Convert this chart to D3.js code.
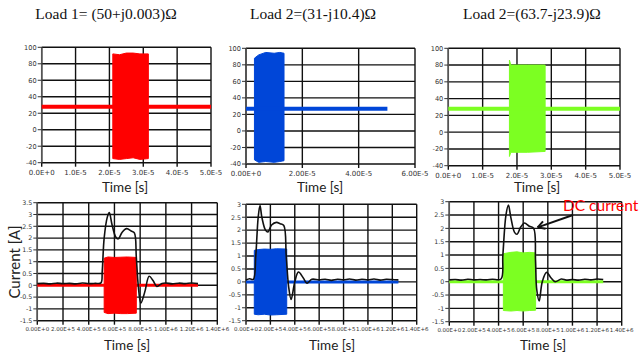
<!DOCTYPE html>
<html>
<head>
<meta charset="utf-8">
<script src="https://cdn.jsdelivr.net/npm/d3@7"></script>
<style>
  body { margin: 0; background: #fff; }
  svg { display: block; }
  .tick-y, .tick-x { font-family: "DejaVu Sans", sans-serif; fill: #333; }
  .axis-title { font-family: Lato, "Open Sans", sans-serif; fill: #222; }
  .load-title { font-family: "Liberation Serif", "DejaVu Serif", serif; fill: #111; }
</style>
</head>
<body>
<div class="container"></div>
<script>
// ---- titles ----
const loadTitles = ['Load 1= (50+j0.003)\u03a9', 'Load 2=(31-j10.4)\u03a9', 'Load 2=(63.7-j23.9)\u03a9'];

// ---- top row: voltage vs time ----
const topYTicks = [-40, -20, 0, 20, 40, 60, 80, 100];
const topXTicksA = [0, 1e-5, 2e-5, 3e-5, 4e-5, 5e-5];
const topXLabelsA = ['0.0E+0', '1.0E-5', '2.0E-5', '3.0E-5', '4.0E-5', '5.0E-5'];
const topXTicksB = [0, 2e-5, 4e-5, 6e-5];
const topXLabelsB = ['0.00E+0', '2.00E-5', '4.00E-5', '6.00E-5'];

// flat level [t, v]
const load1Level = [[0, 28], [5e-5, 28]];
const load2Level = [[0, 27], [5.02e-5, 27]];
const load3Level = [[0, 28], [5e-5, 28]];
// burst envelope [t, low, high]
const load1Burst = [[2.1e-5, -35, 92], [2.3e-5, -36, 91], [2.5e-5, -35, 93], [2.7e-5, -34, 93], [2.9e-5, -36, 92], [3.15e-5, -35, 92]];
const load2Burst = [[0.3e-5, -35, 88], [0.45e-5, -38, 92], [0.7e-5, -37, 95], [1.0e-5, -38, 94], [1.2e-5, -37, 95], [1.35e-5, -36, 94]];
const load3Burst = [[1.78e-5, -29, 86], [1.82e-5, -24, 80], [2.3e-5, -24, 80], [2.82e-5, -23, 80]];

// ---- bottom row: current vs time ----
const botXTicks = [0, 2e5, 4e5, 6e5, 8e5, 1e6, 1.2e6, 1.4e6];
const botXLabels = ['0.00E+0', '2.00E+5', '4.00E+5', '6.00E+5', '8.00E+5', '1.00E+6', '1.20E+6', '1.40E+6'];
const botYTicksA = [-1.5, -1, -0.5, 0, 0.5, 1, 1.5, 2, 2.5, 3, 3.5];
const botYTicksB = [-1.5, -1, -0.5, 0, 0.5, 1, 1.5, 2, 2.5, 3];

const dc1 = [[0, 0.07], [0.5e5, 0.08], [1e5, 0.06], [1.5e5, 0.09], [2e5, 0.07], [2.5e5, 0.08], [3e5, 0.06], [3.5e5, 0.1],
  [4e5, 0.07], [4.5e5, 0.08], [4.95e5, 0.1], [5.05e5, 0.6], [5.2e5, 2.0], [5.45e5, 2.9], [5.6e5, 3.08], [5.8e5, 2.6],
  [6.1e5, 2.05], [6.3e5, 1.97], [6.6e5, 2.25], [6.95e5, 2.4], [7.3e5, 2.3], [7.55e5, 2.22], [7.7e5, 1.2], [7.85e5, 0],
  [8.05e5, -0.75], [8.35e5, -0.3], [8.7e5, 0.38], [9.0e5, 0.2], [9.3e5, -0.05], [9.7e5, 0.08], [1.0e6, 0.1],
  [1.05e6, 0.06], [1.1e6, 0.09], [1.15e6, 0.07], [1.2e6, 0.1], [1.25e6, 0.07]];
const dc2 = [[0, 0.07], [0.3e5, 0.12], [0.6e5, 0.1], [0.8e5, 1.0], [1.0e5, 2.5], [1.15e5, 2.95], [1.3e5, 2.5], [1.6e5, 2.0],
  [1.8e5, 1.93], [2.1e5, 2.2], [2.5e5, 2.3], [2.8e5, 2.25], [3.1e5, 2.18], [3.3e5, 1.0], [3.5e5, -0.2], [3.7e5, -0.68],
  [4.0e5, 0.0], [4.3e5, 0.38], [4.7e5, 0.15], [5.0e5, -0.05], [5.4e5, 0.1], [6e5, 0.08], [6.5e5, 0.1], [7e5, 0.06],
  [7.5e5, 0.1], [8e5, 0.08], [8.5e5, 0.11], [9e5, 0.07], [9.5e5, 0.1], [1.0e6, 0.08], [1.05e6, 0.11], [1.1e6, 0.07],
  [1.15e6, 0.1], [1.2e6, 0.09], [1.25e6, 0.08]];
const dc3 = [[0, 0.07], [0.5e5, 0.08], [1e5, 0.06], [1.5e5, 0.09], [2e5, 0.07], [2.5e5, 0.08], [3e5, 0.07], [3.5e5, 0.09],
  [4.2e5, 0.1], [4.35e5, 1.0], [4.6e5, 2.5], [4.8e5, 2.87], [5.0e5, 2.4], [5.3e5, 1.85], [5.5e5, 1.78], [5.8e5, 2.05],
  [6.1e5, 2.2], [6.5e5, 2.08], [6.85e5, 2.0], [7.0e5, 0.8], [7.1e5, -0.3], [7.3e5, -0.72], [7.55e5, 0.0], [7.9e5, 0.35],
  [8.25e5, 0.15], [8.6e5, 0.0], [9.1e5, 0.1], [9.5e5, 0.06], [1.0e6, 0.08], [1.05e6, 0.06], [1.1e6, 0.09], [1.15e6, 0.07],
  [1.2e6, 0.1], [1.25e6, 0.08]];

const rfLevel = [[0, 0], [1.25e6, 0]];
const rf1Burst = [[5.2e5, -1.15, 1.15], [5.5e5, -1.2, 1.2], [6.0e5, -1.18, 1.18], [6.5e5, -1.2, 1.19], [7.0e5, -1.2, 1.2], [7.7e5, -1.18, 1.18]];
const rf2Burst = [[0.68e5, -1.25, 1.22], [1.0e5, -1.27, 1.25], [1.5e5, -1.25, 1.27], [2.0e5, -1.28, 1.26], [2.5e5, -1.27, 1.28], [3.34e5, -1.25, 1.27]];
const rf3Burst = [[4.39e5, -1.08, 1.05], [5.0e5, -1.1, 1.1], [5.5e5, -1.08, 1.12], [6.0e5, -1.1, 1.08], [6.5e5, -1.08, 1.1], [7.01e5, -1.07, 1.08]];

const loadColors = ['#ff0000', '#0046d8', '#7cff22'];

const svg = d3.select('.container').append('svg')
  .attr('width', 640).attr('height', 356)
  .attr('viewBox', '0 0 640 356');

function drawPanel(p) {
  const x = d3.scaleLinear().domain(p.xDomain).range([p.left, p.right]);
  const y = d3.scaleLinear().domain(p.yDomain).range([p.bottom, p.top]);
  const g = svg.append('g');

  // grid
  g.selectAll('.hgrid').data(p.yTicks).enter().append('line')
    .attr('x1', p.left).attr('x2', p.right)
    .attr('y1', d => y(d)).attr('y2', d => y(d))
    .attr('stroke', '#111').attr('stroke-width', 1.4);
  g.selectAll('.vgrid').data(p.xTicks).enter().append('line')
    .attr('y1', p.top).attr('y2', p.bottom + 4)
    .attr('x1', d => x(d)).attr('x2', d => x(d))
    .attr('stroke', '#111').attr('stroke-width', 1.4);
  // left axis + ticks
  g.append('line').attr('x1', p.left).attr('x2', p.left).attr('y1', p.top).attr('y2', p.bottom)
    .attr('stroke', '#555').attr('stroke-width', 1.5);
  g.selectAll('.ytk').data(p.yTicks).enter().append('line')
    .attr('x1', p.left - 4).attr('x2', p.left)
    .attr('y1', d => y(d)).attr('y2', d => y(d))
    .attr('stroke', '#333');

  g.selectAll('.ylab').data(p.yTicks).enter().append('text')
    .attr('class', 'tick-y')
    .attr('x', p.left - 5).attr('y', d => y(d) + p.yFont * 0.36)
    .attr('text-anchor', 'end').style('font-size', p.yFont + 'px')
    .text(d => d);
  g.selectAll('.xlab').data(p.xTicks).enter().append('text')
    .attr('class', 'tick-x')
    .attr('x', d => x(d)).attr('y', p.bottom + p.xLabDy)
    .attr('text-anchor', 'middle').style('font-size', p.xFont + 'px')
    .text((d, i) => p.xLabels[i]);

  // burst envelope
  const area = d3.area().x(d => x(d[0])).y0(d => y(d[1])).y1(d => y(d[2]));
  g.append('path').datum(p.burst).attr('d', area)
    .attr('fill', p.color).attr('stroke', p.color).attr('stroke-width', 1);
  // flat level
  const line = d3.line().x(d => x(d[0])).y(d => y(d[1]));
  g.append('path').datum(p.level).attr('d', line)
    .attr('fill', 'none').attr('stroke', p.color).attr('stroke-width', p.levelWidth);
  // dc current
  if (p.dc) {
    g.append('path').datum(p.dc).attr('d', line.curve(d3.curveCatmullRom.alpha(0.5)))
      .attr('fill', 'none').attr('stroke', '#111').attr('stroke-width', 1.6);
  }

  g.append('text').attr('class', 'axis-title')
    .attr('x', p.labelX).attr('y', p.labelY)
    .attr('text-anchor', 'middle').style('font-size', '13.5px')
    .text('Time [s]');
  return {x, y};
}

const topPanels = [
  {left: 41.7, right: 211, top: 47.3, bottom: 162.7, xDomain: [0, 5e-5], xTicks: topXTicksA, xLabels: topXLabelsA,
   level: load1Level, burst: load1Burst, labelX: 125, titleX: 106},
  {left: 246, right: 415, top: 48.3, bottom: 164, xDomain: [0, 6e-5], xTicks: topXTicksB, xLabels: topXLabelsB,
   level: load2Level, burst: load2Burst, labelX: 320, titleX: 313},
  {left: 448.3, right: 620, top: 48.3, bottom: 165.7, xDomain: [0, 5e-5], xTicks: topXTicksA, xLabels: topXLabelsA,
   level: load3Level, burst: load3Burst, labelX: 537, titleX: 532}
];
topPanels.forEach((p, i) => {
  drawPanel(Object.assign({yDomain: [-40, 100], yTicks: topYTicks, color: loadColors[i], levelWidth: 4,
    yFont: 6.6, xFont: 7, xLabDy: 12, labelY: 191.5}, p));
  svg.append('text').attr('class', 'load-title')
    .attr('x', p.titleX).attr('y', 19).attr('text-anchor', 'middle')
    .style('font-size', '15.5px').text(loadTitles[i]);
});

const botPanels = [
  {left: 37.3, right: 217.3, top: 202.7, bottom: 320.7, yDomain: [-1.5, 3.5], yTicks: botYTicksA,
   burst: rf1Burst, dc: dc1, labelX: 127},
  {left: 246, right: 416.7, top: 204.3, bottom: 320.7, yDomain: [-1.5, 3], yTicks: botYTicksB,
   burst: rf2Burst, dc: dc2, labelX: 332},
  {left: 449.3, right: 621.7, top: 201.7, bottom: 321.7, yDomain: [-1.5, 3], yTicks: botYTicksB,
   burst: rf3Burst, dc: dc3, labelX: 543}
];
let lastScales;
botPanels.forEach((p, i) => {
  lastScales = drawPanel(Object.assign({xDomain: [0, 1.4e6], xTicks: botXTicks, xLabels: botXLabels,
    level: rfLevel, color: loadColors[i], levelWidth: 3, yFont: 6.3, xFont: 5.5, xLabDy: 10.5, labelY: 350}, p));
});

svg.append('text').attr('class', 'axis-title')
  .attr('transform', 'translate(20,262) rotate(-90)')
  .attr('text-anchor', 'middle').style('font-size', '15px')
  .text('Current [A]');

// annotation
const tipX = lastScales.x(6.85e5) + 4, tipY = lastScales.y(2.0) - 1;
const tailX = 573, tailY = 215;
svg.append('line').attr('x1', tailX).attr('y1', tailY).attr('x2', tipX).attr('y2', tipY)
  .attr('stroke', '#111').attr('stroke-width', 2);
const ang = Math.atan2(tailY - tipY, tailX - tipX);
[0.5, -0.5].forEach(off => {
  svg.append('line').attr('x1', tipX).attr('y1', tipY)
    .attr('x2', tipX + 8 * Math.cos(ang + off)).attr('y2', tipY + 8 * Math.sin(ang + off))
    .attr('stroke', '#111').attr('stroke-width', 2);
});
svg.append('text').attr('x', 563).attr('y', 211)
  .style('font-family', 'Lato, sans-serif').style('font-size', '15.5px').attr('fill', '#ff0000')
  .text('DC current');
</script>
</body>
</html>
